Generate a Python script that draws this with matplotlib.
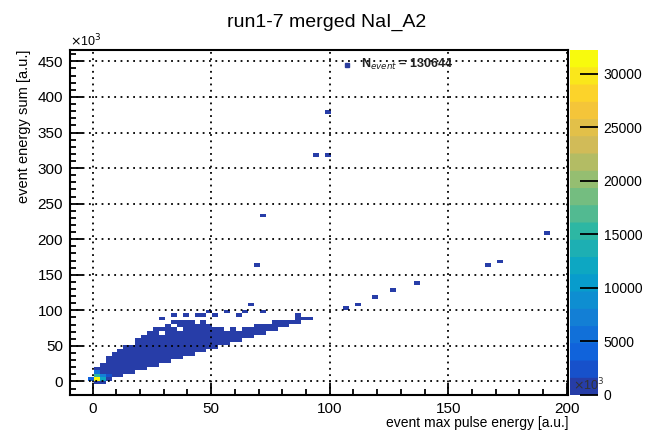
import numpy as np
import matplotlib
matplotlib.use("Agg")
import matplotlib.pyplot as plt
from matplotlib.colors import LinearSegmentedColormap, BoundaryNorm, ListedColormap
from matplotlib.ticker import MultipleLocator

plt.rcParams['font.family'] = ['Liberation Sans', 'DejaVu Sans']

# ---------------- data (x and y in 1e3 a.u.) ----------------
title = "run1-7 merged NaI_A2"
xlabel = "event max pulse energy [a.u.]"
ylabel = "event energy sum [a.u.]"
n_event_text = "130644"
cbar_ticks = [0, 5000, 10000, 15000, 20000, 25000, 30000]

# dense band: column x centre, lower and upper y edge of filled cells
band_x   = [1, 3.5, 6, 8.5, 11, 13.5, 16, 18.5, 21, 23.5, 26, 28.5, 31, 33.5, 36, 38.5,
            41, 43.5, 46, 48.5, 51, 53.5, 56, 58.5, 61, 63.5, 66, 68.5, 71, 73.5, 76,
            78.5, 81, 83.5, 86, 88.5, 91]
band_ylo = [-5, -2, 2, 4, 7, 10, 12, 15, 17, 20, 22, 25, 27, 30, 32, 35,
            37, 40, 42, 45, 47, 50, 52, 55, 57, 60, 62, 65, 67, 70, 72,
            75, 77, 80, 82, 85, 87]
band_yhi = [20, 28, 35, 40, 46, 52, 57, 62, 66, 70, 74, 78, 82, 84, 86, 88,
            88, 88, 85, 82, 76, 75, 75, 76, 77, 78, 78, 80, 81, 80, 83,
            84, 85, 86, 89, 90, 91]
band_count = 60

# empty cells (holes) inside the band (x, y)
hole_x = [29, 38, 49, 33.5, 43.5, 56, 61, 16]
hole_y = [68, 75, 84, 80, 82, 72, 74, 55]

# isolated cells (x, y)
out_x = [35, 39, 49, 56, 61, 64, 68, 71, 87, 89, 92, 76, 83, 108, 111, 119, 127,
         128, 138, 167, 173, 192, 70, 72, 94, 99, 99, 30, 44, 46, 53]
out_y = [92, 94, 101, 100, 96, 100, 110, 100, 94, 90, 90, 82, 82, 106, 110, 118, 127,
         130, 138, 166, 170, 207, 166, 232, 321, 321, 377, 90, 95, 92, 92]

# hot cells near the origin (x, y, counts)
hot_x = [1, 1, 3.5, 3.5, 1, 6, -1.5]
hot_y = [2, 7, 2, 7, 12, 7, 2]
hot_c = [32000, 16000, 12000, 7000, 5000, 3000, 4000]

# ---------------- build histogram ----------------
xlim = (-9.5, 200.5)
ylim = (-19, 466)
xedges = np.arange(xlim[0], xlim[1] + 0.01, 2.5)
yedges = np.arange(ylim[0], ylim[1] + 0.01, 5.0)
xc = 0.5 * (xedges[:-1] + xedges[1:])
yc = 0.5 * (yedges[:-1] + yedges[1:])
H = np.zeros((len(yc), len(xc)))

for bx, lo, hi in zip(band_x, band_ylo, band_yhi):
    i = np.searchsorted(xedges, bx) - 1
    sel = (yc >= lo) & (yc <= hi)
    H[sel, i] = np.maximum(H[sel, i], band_count)

for hx, hy in zip(hole_x, hole_y):
    i = np.searchsorted(xedges, hx) - 1
    j = np.searchsorted(yedges, hy) - 1
    H[j, i] = 0

for ox, oy in zip(out_x, out_y):
    i = np.searchsorted(xedges, ox) - 1
    j = np.searchsorted(yedges, oy) - 1
    H[j, i] = max(H[j, i], 3)

for hx, hy, hc in zip(hot_x, hot_y, hot_c):
    i = np.searchsorted(xedges, hx) - 1
    j = np.searchsorted(yedges, hy) - 1
    H[j, i] = hc

Hm = np.ma.masked_where(H <= 0, H)

# ROOT kBird palette, 20 contour levels
stops = [0.0, 0.125, 0.25, 0.375, 0.5, 0.625, 0.75, 0.875, 1.0]
red   = [0.2082, 0.0592, 0.0780, 0.0232, 0.1802, 0.5301, 0.8186, 0.9956, 0.9764]
green = [0.1664, 0.3599, 0.5041, 0.6419, 0.7178, 0.7492, 0.7328, 0.7862, 0.9832]
blue  = [0.5293, 0.8684, 0.8385, 0.7914, 0.6425, 0.4662, 0.3499, 0.1968, 0.0539]
cmap = LinearSegmentedColormap.from_list(
    "bird", [(s, (r, g, b)) for s, r, g, b in zip(stops, red, green, blue)], N=255)
nlev = 20
zmax = 32200
levels = np.linspace(0, zmax, nlev + 1)
idx = [int((i + 0.99) * 255 / nlev) for i in range(nlev)]
cols = cmap([min(k, 254) / 254 for k in idx])
dcmap = ListedColormap(cols)
norm = BoundaryNorm(levels, nlev)

# ---------------- figure ----------------
W, Hh = 647, 430
fig = plt.figure(figsize=(W / 100, Hh / 100), dpi=100)
ax = fig.add_axes([70 / W, 1 - 395 / Hh, 498 / W, 345 / Hh])
cax = fig.add_axes([570 / W, 1 - 395 / Hh, 28 / W, 345 / Hh])

ax.pcolormesh(xedges, yedges, Hm, cmap=dcmap, norm=norm)
ax.set_xlim(*xlim)
ax.set_ylim(*ylim)

ax.xaxis.set_major_locator(MultipleLocator(50))
ax.xaxis.set_minor_locator(MultipleLocator(10))
ax.yaxis.set_major_locator(MultipleLocator(50))
ax.yaxis.set_minor_locator(MultipleLocator(10))
ax.tick_params(which='both', direction='in', top=False, right=False,
               labelsize=11, width=1.3)
ax.tick_params(which='major', length=9, pad=5)
ax.tick_params(which='minor', length=4.5)
ax.grid(True, which='major', color='black', linestyle=(0, (1, 2.5)), linewidth=1.3)
ax.set_axisbelow(False)
for s in ax.spines.values():
    s.set_linewidth(1.5)

ax.set_xlabel(xlabel, fontsize=10, loc='right', labelpad=0)
ax.set_ylabel(ylabel, fontsize=10.5, loc='top', labelpad=5)
fig.text(70 / W, 1 - 49 / Hh, r"$\times$10$^{3}$", fontsize=9, ha='left', va='bottom')
fig.text(573 / W, 1 - 393 / Hh, r"$\times$10$^{3}$", fontsize=9, ha='left', va='bottom',
         color='#333333', zorder=10)

fig.suptitle(title, x=327 / W, y=1 - 22 / Hh, fontsize=14, va='center')

# legend-like entry
ax.plot([0.556], [0.957], marker='s', ms=3, color='#2b3d9c', transform=ax.transAxes,
        clip_on=False)
ax.text(0.585, 0.957, r"N$_{event}$ = " + n_event_text, transform=ax.transAxes,
        fontsize=9, fontweight='bold', va='center', ha='left', color='#222222')

# colorbar
cax.imshow(np.linspace(0, zmax, 400)[:, None], aspect='auto', origin='lower',
           extent=[0, 1, 0, zmax], cmap=dcmap, norm=norm)
cax.set_xlim(0, 1)
cax.set_ylim(0, zmax)
cax.set_xticks([])
cax.yaxis.tick_right()
cax.set_yticks(cbar_ticks)
cax.tick_params(axis='y', direction='in', length=13, width=1.3, labelsize=10, pad=4)
for s in cax.spines.values():
    s.set_visible(False)

fig.savefig("out.png", dpi=100)
